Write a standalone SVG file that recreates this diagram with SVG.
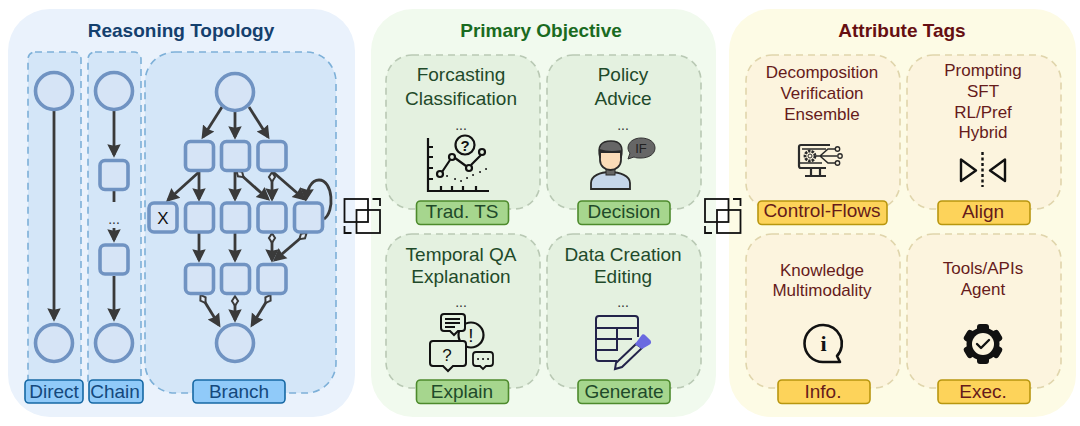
<svg xmlns="http://www.w3.org/2000/svg" width="1080" height="426" viewBox="0 0 1080 426">
<style>
text{font-family:"Liberation Sans",Arial,sans-serif;text-anchor:middle}
.title{font-size:19px;font-weight:bold}
.b{font-size:19px}
.g{font-size:19px;fill:#1f4a2a}
.dot{font-size:14px;fill:#333}
.r{font-size:17px;fill:#661b1b}
.sb{fill:#d4e6f8;stroke:#7db0d8;stroke-width:1.6;stroke-dasharray:7 5}
.sg{fill:#e4f1e0;stroke:#b9c9b4;stroke-width:1.6;stroke-dasharray:7 5}
.sy{fill:#fcf4de;stroke:#e0d5ac;stroke-width:1.6;stroke-dasharray:7 5}
.lb{fill:#90caf9;stroke:#1668a4;stroke-width:1.6}
.lg{fill:#a6d68e;stroke:#4d8a2c;stroke-width:1.6}
.ly{fill:#fdd35a;stroke:#b8960f;stroke-width:1.6}
.n{fill:#d6e4f6;stroke:#7093c2;stroke-width:3.6}
.c{fill:none;stroke:#3a3a3a;stroke-width:2.8;marker-end:url(#a)}
.d{marker-start:url(#dm)}
.i{fill:none;stroke:#111;stroke-width:2.2}
.m{fill:none;stroke:#111;stroke-width:1.8}
</style>
<defs>
<marker id="a" viewBox="0 -3 6 6" refX="3.800" markerWidth="6" markerHeight="6" orient="auto"><path d="M0 -2.400L4.800 0L0 2.400L.5 0Z" fill="#3a3a3a"/></marker>
<marker id="dm" viewBox="-3 -2 6 4" refX="0" refY="0" markerWidth="6" markerHeight="4" orient="auto"><path d="M-1.700 0L0 -1.100L1.700 0L0 1.100Z" fill="#e4edf8" stroke="#3a3a3a" stroke-width=".7"/></marker>
<g id="merge"><rect x="0" y="0" width="23.500" height="23" class="m"/><rect x="12" y="11" width="23.500" height="23" class="m"/><path class="m" d="M28 0H35.500V7M0 27V34H7"/></g>
</defs>

<rect id="panel-topology" x="8" y="9" width="347" height="408" rx="42" fill="#eaf2fc"/>
<rect id="panel-objective" x="371" y="9" width="345" height="408" rx="42" fill="#f1faee"/>
<rect id="panel-tags" x="729" y="9" width="347" height="408" rx="42" fill="#fdfbe5"/>

<text class="title" x="181" y="37" fill="#14406e">Reasoning Topology</text>
<text class="title" x="541" y="37" fill="#1a6b1f">Primary Objective</text>
<text class="title" x="902" y="37" fill="#660f12">Attribute Tags</text>

<g id="sub-direct"><rect class="sb" x="28" y="52" width="53" height="336" rx="7"/></g>
<g id="sub-chain"><rect class="sb" x="88" y="52" width="53" height="336" rx="7"/></g>
<g id="sub-branch"><rect class="sb" x="145" y="52" width="191" height="341" rx="30"/></g>

<g id="connectors">
<path class="c" d="M54 111V319"/>
<path class="c" d="M114 111V155"/>
<path d="M114 191V202" fill="none" stroke="#3a3a3a" stroke-width="2.800"/>
<path class="c" d="M114 228V240"/>
<path class="c" d="M114 276V319"/>
<path class="c" d="M222 107L203 137"/>
<path class="c" d="M235 111V137"/>
<path class="c" d="M249 107L268 137"/>
<path class="c" d="M199 172L168 200"/>
<path class="c" d="M199 172V199"/>
<path class="c" d="M235 172V199"/>
<path class="c d" d="M240 174L268 199"/>
<path class="c d" d="M272 177V199"/>
<path class="c" d="M273 172L304 199"/>
<path class="c" d="M324 219C335 212 333 180 319 180C311 180 307 190 306 199"/>
<path class="c" d="M199 233V260"/>
<path class="c" d="M235 233V260"/>
<path class="c d" d="M272 238V260"/>
<path class="c d" d="M303 236L275 260"/>
<path class="c d" d="M203 299L219 325"/>
<path class="c d" d="M235 301V320"/>
<path class="c d" d="M268 299L252 325"/>
</g>

<g id="direct-start"><circle class="n" cx="54" cy="91" r="18.500"/></g>
<g id="direct-end"><circle class="n" cx="54" cy="343" r="18.500"/></g>
<g id="chain-start"><circle class="n" cx="114" cy="91" r="18.500"/></g>
<g id="chain-s1"><rect class="n" x="100" y="160.500" width="28" height="29" rx="5"/></g>
<text x="114" y="224" class="dot" fill="#111">...</text>
<g id="chain-s2"><rect class="n" x="100" y="245" width="28" height="29" rx="5"/></g>
<g id="chain-end"><circle class="n" cx="114" cy="343" r="18.500"/></g>
<g id="branch-start"><circle class="n" cx="235" cy="92" r="18.500"/></g>
<g id="r1a"><rect class="n" x="185.500" y="141.500" width="28" height="29" rx="5"/></g>
<g id="r1b"><rect class="n" x="221.500" y="141.500" width="28" height="29" rx="5"/></g>
<g id="r1c"><rect class="n" x="258" y="141.500" width="28" height="29" rx="5"/></g>
<g id="r2x"><rect class="n" x="149" y="203" width="28" height="29" rx="5"/><text x="163" y="224" font-size="17px" fill="#111">X</text></g>
<g id="r2a"><rect class="n" x="185.500" y="203" width="28" height="29" rx="5"/></g>
<g id="r2b"><rect class="n" x="221.500" y="203" width="28" height="29" rx="5"/></g>
<g id="r2c"><rect class="n" x="258" y="203" width="28" height="29" rx="5"/></g>
<g id="r2d"><rect class="n" x="294.500" y="203" width="28" height="29" rx="5"/></g>
<g id="r3a"><rect class="n" x="185.500" y="264.500" width="28" height="29" rx="5"/></g>
<g id="r3b"><rect class="n" x="221.500" y="264.500" width="28" height="29" rx="5"/></g>
<g id="r3c"><rect class="n" x="258" y="264.500" width="28" height="29" rx="5"/></g>
<g id="branch-end"><circle class="n" cx="235" cy="343" r="18.500"/></g>

<g id="label-direct"><rect class="lb" x="25" y="380" width="58" height="23" rx="4"/><text class="b" x="54" y="397.500" fill="#14487c">Direct</text></g>
<g id="label-chain"><rect class="lb" x="89" y="380" width="54" height="23" rx="4"/><text class="b" x="115" y="397.500" fill="#14487c">Chain</text></g>
<g id="label-branch"><rect class="lb" x="193" y="380" width="92" height="23" rx="4"/><text class="b" x="239" y="397.500" fill="#14487c">Branch</text></g>

<use id="merge-1" href="#merge" x="344.500" y="199"/>
<use id="merge-2" href="#merge" x="705" y="199"/>

<g id="obj-forecast">
<rect class="sg" x="386" y="55" width="154" height="154" rx="26"/>
<text class="g" x="461" y="81">Forcasting</text><text class="g" x="461" y="105">Classification</text>
<text class="dot" x="461" y="130">...</text>
<path class="i" d="M428 138V191H489M428 147h5M428 157h5M428 168h5M428 179h5M441 191v-5M452 191v-5M463 191v-5M476 191v-5"/>
<circle class="i" cx="465" cy="145" r="9.500"/><text x="465" y="151" font-size="15px" font-weight="bold" fill="#111">?</text>
<path class="i" d="M442 172L450 160M455 158L466 166M471 165L481 155"/>
<circle class="i" cx="440" cy="174" r="3"/><circle class="i" cx="452" cy="157" r="3"/><circle class="i" cx="469" cy="168" r="3"/><circle class="i" cx="482" cy="152" r="3"/>
<path d="M447 176h.1M455 179h.1M461 181h.1M467 178h.1M473 175h.1M480 172h.1M486 169h.1" stroke="#222" stroke-width="2" stroke-linecap="round"/>
</g>
<g id="label-trad"><rect class="lg" x="416.500" y="201" width="92" height="23.500" rx="4"/><text class="b" x="462" y="218" fill="#1f4a2a">Trad. TS</text></g>

<g id="obj-decision">
<rect class="sg" x="547" y="55" width="154" height="154" rx="26"/>
<text class="g" x="623" y="81">Policy</text><text class="g" x="623" y="105">Advice</text>
<text class="dot" x="623" y="130">...</text>
<path d="M591 189V183C591 176 600 172 610 172C620 172 630 176 630 183V189Z" fill="#c5d6ea" stroke="#2a2a2a" stroke-width="1.800"/>
<rect x="606" y="166" width="9" height="9" fill="#666" stroke="#2a2a2a"/>
<path d="M600 152H621V160C621 166 616 170 610.500 170C605 170 600 166 600 160Z" fill="#fbdcb8" stroke="#2a2a2a" stroke-width="1.800"/>
<path d="M600 158C597 146 601 141 611 141C620 141 624 146 621 158V151C614 152 606 152 600 150Z" fill="#666" stroke="#2a2a2a" stroke-width="1.500"/>
<path d="M628 148C628 142 634 138 641 138C649 138 655 142 655 148C655 154 649 158 641 158C638 158 636 158 634 157L628 159L630 153C629 152 628 150 628 148Z" fill="#666" stroke="#333"/>
<text x="641" y="153" font-size="13px" fill="#222">IF</text>
</g>
<g id="label-decision"><rect class="lg" x="578" y="201" width="92" height="23.500" rx="4"/><text class="b" x="624" y="218" fill="#1f4a2a">Decision</text></g>

<g id="obj-explain">
<rect class="sg" x="386" y="234" width="154" height="154" rx="26"/>
<text class="g" x="461" y="261">Temporal QA</text><text class="g" x="461" y="283">Explanation</text>
<text class="dot" x="461" y="307">...</text>
<circle class="i" cx="471" cy="335" r="12.500"/>
<text x="471" y="342" font-size="19px" fill="#111">!</text>
<path d="M444 314H462Q465 314 465 317V328Q465 331 462 331H458L454 335L450 331H444Q441 331 441 328V317Q441 314 444 314Z" fill="#e4f1e0" stroke="#111" stroke-width="2"/>
<path class="i" d="M445 319h15M445 323h15M445 327h10" stroke-width="1.500"/>
<path d="M433 341H463Q466 341 466 344V363Q466 366 463 366H453L448 371L443 366H433Q430 366 430 363V344Q430 341 433 341Z" fill="#e4f1e0" stroke="#111" stroke-width="2"/>
<text x="447" y="361" font-size="17px" fill="#111">?</text>
<path d="M476 352H490Q493 352 493 355V363Q493 366 490 366H486L483 369L480 366H476Q473 366 473 363V355Q473 352 476 352Z" fill="#e4f1e0" stroke="#111" stroke-width="1.800"/>
<path d="M478 359h.1M483 359h.1M488 359h.1" stroke="#111" stroke-width="2" stroke-linecap="round"/>
</g>
<g id="label-explain"><rect class="lg" x="416.500" y="380" width="92" height="23.500" rx="4"/><text class="b" x="462" y="397.500" fill="#1f4a2a">Explain</text></g>

<g id="obj-generate">
<rect class="sg" x="547" y="234" width="154" height="154" rx="26"/>
<text class="g" x="623" y="261">Data Creation</text><text class="g" x="623" y="283">Editing</text>
<text class="dot" x="623" y="307">...</text>
<path d="M638 337V319Q638 316 635 316H599Q596 316 596 319V358Q596 361 599 361H617M596 328H638M596 339H632M596 350H618M617 328V350" fill="none" stroke="#23234a" stroke-width="2"/>
<path d="M636 344L616 363L615 369L622 367L642 348Z" fill="#e4f1e0" stroke="#23234a" stroke-width="2"/>
<path d="M636 344L642 336Q643 334 645 336L650 341Q651 343 649 344L642 348Z" fill="#6a6ae0" stroke="#6a6ae0" stroke-width="1.500"/>
</g>
<g id="label-generate"><rect class="lg" x="578" y="380" width="92" height="23.500" rx="4"/><text class="b" x="624" y="397.500" fill="#1f4a2a">Generate</text></g>

<g id="tag-control">
<rect class="sy" x="746" y="55" width="154" height="154" rx="26"/>
<text class="r" x="822" y="78">Decomposition</text><text class="r" x="822" y="99">Verification</text><text class="r" x="822" y="120">Ensemble</text>
<path d="M830 145H801Q799 145 799 147V166Q799 168 801 168H826M811 168V175M820 168V175M805 176H826" fill="none" stroke="#2b2b2b" stroke-width="2.200"/>
<path d="M802 149H826M799 163H822" stroke="#2b2b2b" stroke-width="1.400"/>
<circle cx="810" cy="156" r="5" fill="none" stroke="#2b2b2b" stroke-width="2.800" stroke-dasharray="2.500 1"/>
<circle cx="810" cy="156" r="2" fill="none" stroke="#2b2b2b"/>
<path d="M816 156H837M820 156L828 149H835M820 156L828 163H835" fill="none" stroke="#2b2b2b" stroke-width="1.600"/>
<circle cx="837.500" cy="149" r="2.200" fill="#fcf4de" stroke="#2b2b2b" stroke-width="1.400"/><circle cx="840" cy="156" r="2.200" fill="#fcf4de" stroke="#2b2b2b" stroke-width="1.400"/><circle cx="837.500" cy="163" r="2.200" fill="#fcf4de" stroke="#2b2b2b" stroke-width="1.400"/>
</g>
<g id="label-control"><rect class="ly" x="758" y="201" width="129" height="23.500" rx="4"/><text class="b" x="822" y="217" fill="#661b1b">Control-Flows</text></g>

<g id="tag-align">
<rect class="sy" x="907" y="55" width="154" height="154" rx="26"/>
<text class="r" x="983" y="76">Prompting</text><text class="r" x="983" y="97">SFT</text><text class="r" x="983" y="118">RL/Pref</text><text class="r" x="983" y="138">Hybrid</text>
<path d="M961 159.500V181L976 170.500ZM1005 159.500V181L990 170.500Z" fill="none" stroke="#111" stroke-width="2.400" stroke-linejoin="round"/>
<path d="M982.500 152V187" stroke="#111" stroke-width="2.400" stroke-dasharray="3 2.500"/>
</g>
<g id="label-align"><rect class="ly" x="938" y="201" width="92" height="23.500" rx="4"/><text class="b" x="983" y="218" fill="#661b1b">Align</text></g>

<g id="tag-info">
<rect class="sy" x="746" y="234" width="154" height="154" rx="26"/>
<text class="r" x="822" y="276">Knowledge</text><text class="r" x="822" y="296">Multimodality</text>
<path d="M823 325A18.500 18.500 0 1 0 823 362H840L837 356A18.500 18.500 0 0 0 823 325Z" fill="none" stroke="#111" stroke-width="2.600" stroke-linejoin="round"/>
<text x="823.500" y="351" font-size="22px" font-weight="bold" fill="#111" style="font-family:'Liberation Serif',serif">i</text>
</g>
<g id="label-info"><rect class="ly" x="778" y="380" width="92" height="23.500" rx="4"/><text class="b" x="823" y="397.500" fill="#661b1b">Info.</text></g>

<g id="tag-exec">
<rect class="sy" x="907" y="234" width="154" height="154" rx="26"/>
<text class="r" x="983" y="274">Tools/APIs</text><text class="r" x="983" y="295">Agent</text>
<circle cx="983" cy="344" r="16.500" fill="#111"/>
<g fill="#111"><rect x="977" y="324" width="12" height="40" rx="3"/><rect x="977" y="324" width="12" height="40" rx="3" transform="rotate(60 983 344)"/><rect x="977" y="324" width="12" height="40" rx="3" transform="rotate(120 983 344)"/></g>
<circle cx="983" cy="344" r="11" fill="#fcf4de"/>
<path d="M977 344L981 348L989 340" fill="none" stroke="#111" stroke-width="2.400" stroke-linecap="round" stroke-linejoin="round"/>
</g>
<g id="label-exec"><rect class="ly" x="938" y="380" width="92" height="23.500" rx="4"/><text class="b" x="983" y="397.500" fill="#661b1b">Exec.</text></g>
</svg>
